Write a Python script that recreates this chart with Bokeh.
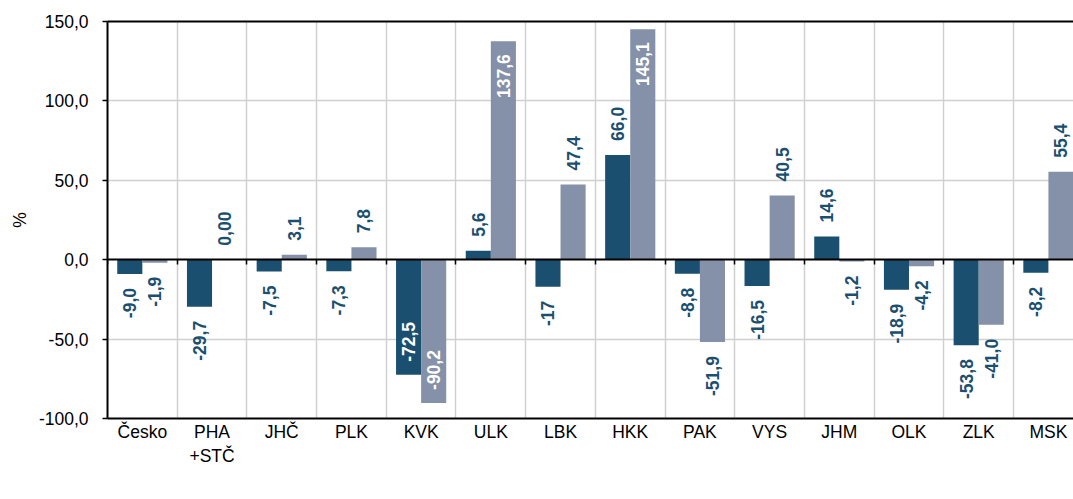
import math
from bokeh.plotting import figure
from bokeh.models import (Range1d, LinearAxis, FixedTicker, Legend, LegendItem,
                          ColumnDataSource, Grid)
from bokeh.core.properties import value
from bokeh.embed import file_html
from bokeh.resources import INLINE

# ---------------- data ----------------
categories = ["Česko", "PHA\n+STČ", "JHČ", "PLK", "KVK", "ULK", "LBK", "HKK",
              "PAK", "VYS", "JHM", "OLK", "ZLK", "MSK"]
drubez = [-9.0, -29.7, -7.5, -7.3, -72.5, 5.6, -17.0, 66.0, -8.8, -16.5, 14.6, -18.9, -53.8, -8.2]
slepice = [-1.9, 0.0, 3.1, 7.8, -90.2, 137.6, 47.4, 145.1, -51.9, 40.5, -1.2, -4.2, -41.0, 55.4]
drubez_labels = ["-9,0", "-29,7", "-7,5", "-7,3", "-72,5", "5,6", "-17", "66,0",
                 "-8,8", "-16,5", "14,6", "-18,9", "-53,8", "-8,2"]
slepice_labels = ["-1,9", "0,00", "3,1", "7,8", "-90,2", "137,6", "47,4", "145,1",
                  "-51,9", "40,5", "-1,2", "-4,2", "-41,0", "55,4"]
series_names = ["drůbež", "slepice"]
y_ticks = [-100, -50, 0, 50, 100, 150]
y_tick_labels = ["-100,0", "-50,0", "0,0", "50,0", "100,0", "150,0"]
y_axis_title = "%"

# ---------------- styles ----------------
C_DRUBEZ = "#1B4F6F"
C_SLEPICE = "#8591A8"
C_LABEL = "#1B4F6F"
FONT_NAME = "Liberation Sans"
FONT = value(FONT_NAME)
FS = "17.5px"

W, H = 1073, 499
B_LEFT, B_TOP, B_BOTTOM, B_RIGHT = 107, 21, 81, 0
FRAME_W = W - B_LEFT - B_RIGHT
FRAME_H = H - B_TOP - B_BOTTOM
Y0, Y1 = -100, 150
PY = FRAME_H / (Y1 - Y0)  # px per unit
BAR_W = 0.36
N = len(categories)

p = figure(frame_width=FRAME_W, frame_height=FRAME_H, output_backend="svg",
           toolbar_location=None,
           x_range=Range1d(-0.5, N - 1 + BAR_W), y_range=Range1d(Y0, Y1),
           x_axis_type=None, y_axis_type=None,
           min_border_left=B_LEFT, min_border_right=B_RIGHT,
           min_border_top=B_TOP, min_border_bottom=B_BOTTOM)
p.outline_line_color = None
p.background_fill_color = "white"
p.border_fill_color = "white"

bounds = [i + 0.5 for i in range(-1, N)]

# grids
p.add_layout(Grid(dimension=0, ticker=FixedTicker(ticks=bounds),
                  grid_line_color="#D0D0D0", grid_line_width=1.5))
p.add_layout(Grid(dimension=1, ticker=FixedTicker(ticks=[t for t in y_ticks if t not in (Y0, Y1, 0)]),
                  grid_line_color="#D0D0D0", grid_line_width=1.5))

# bars
xs = list(range(N))
src_d = ColumnDataSource(dict(x=[x - BAR_W / 2 for x in xs], top=drubez))
src_s = ColumnDataSource(dict(x=[x + BAR_W / 2 for x in xs], top=slepice))
r_d = p.vbar(x="x", top="top", bottom=0, width=BAR_W, source=src_d,
             fill_color=C_DRUBEZ, line_color=None)
r_s = p.vbar(x="x", top="top", bottom=0, width=BAR_W, source=src_s,
             fill_color=C_SLEPICE, line_color=None)

# data labels
OFF_OUT = 14 / PY
OFF_IN = 13 / PY
CHAR_PX = 8.6


def label_data(xpos, vals, labs):
    lx, ly, al, col = [], [], [], []
    for x, v, t in zip(xpos, vals, labs):
        avail = (Y1 if v >= 0 else -Y0) * PY
        need = abs(v) * PY + 14 + CHAR_PX * len(t)
        inside = need > avail
        lx.append(x)
        if v >= 0:
            if inside:
                ly.append(v - OFF_IN); al.append("right"); col.append("white")
            else:
                ly.append(v + OFF_OUT); al.append("left"); col.append(C_LABEL)
        else:
            if inside:
                ly.append(v + OFF_IN); al.append("left"); col.append("white")
            else:
                ly.append(v - OFF_OUT); al.append("right"); col.append(C_LABEL)
    return ColumnDataSource(dict(x=lx, y=ly, text=list(labs), align=al, color=col))


for src, vals, labs in ((src_d, drubez, drubez_labels), (src_s, slepice, slepice_labels)):
    ls = label_data(src.data["x"], vals, labs)
    p.text(x="x", y="y", text="text", source=ls, angle=math.pi / 2,
           text_align="align", text_baseline="middle", text_color="color",
           text_font=FONT, text_font_style="bold", text_font_size=FS)

# left axis
ya = LinearAxis(ticker=FixedTicker(ticks=y_ticks),
                major_label_overrides={t: l for t, l in zip(y_ticks, y_tick_labels)},
                axis_label=y_axis_title, axis_label_text_font=FONT_NAME,
                axis_label_text_font_style="normal", axis_label_text_font_size=FS,
                axis_label_text_color="black", axis_label_standoff=6,
                major_label_text_font=FONT_NAME, major_label_text_font_size=FS,
                major_label_text_color="black", major_label_standoff=14,
                major_tick_out=5, major_tick_in=0, major_tick_line_width=1.5,
                minor_tick_line_color=None, axis_line_width=2, axis_line_color="black")
p.add_layout(ya, "left")

# bottom category axis (labels at low end)
xa = LinearAxis(ticker=FixedTicker(ticks=xs),
                major_label_overrides={i: c for i, c in zip(xs, categories)},
                major_label_text_font=FONT_NAME, major_label_text_font_size=FS,
                major_label_text_color="black", major_label_standoff=3,
                major_tick_out=0, major_tick_in=0,
                major_tick_line_color=None, minor_tick_line_color=None,
                axis_line_width=2, axis_line_color="black")
p.add_layout(xa, "below")

# zero line with ticks (pointing down) at category boundaries
za = LinearAxis(ticker=FixedTicker(ticks=bounds), fixed_location=0,
                major_label_text_font_size="0px", major_label_text_alpha=0,
                major_label_standoff=0,
                major_tick_out=0, major_tick_in=5, major_tick_line_width=1.5,
                minor_tick_line_color=None, axis_line_width=2, axis_line_color="black")
p.add_layout(za, "above")

# top border line
ta = LinearAxis(ticker=FixedTicker(ticks=[]), major_label_text_font_size="0px",
                major_label_standoff=0, major_tick_out=0, major_tick_in=0,
                major_tick_line_color=None, minor_tick_line_color=None,
                axis_line_width=2, axis_line_color="black")
p.add_layout(ta, "above")

legend = Legend(items=[LegendItem(label=series_names[0], renderers=[r_d]),
                       LegendItem(label=series_names[1], renderers=[r_s])],
                orientation="horizontal", location="center",
                glyph_width=9, glyph_height=9, label_standoff=3, label_width=83,
                spacing=61, padding=0, margin=0, border_line_color=None,
                background_fill_alpha=0,
                label_text_font=FONT_NAME, label_text_font_size=FS, label_text_color="black")
p.add_layout(legend, "below")

open("out.html", "w").write(file_html(p, INLINE))
